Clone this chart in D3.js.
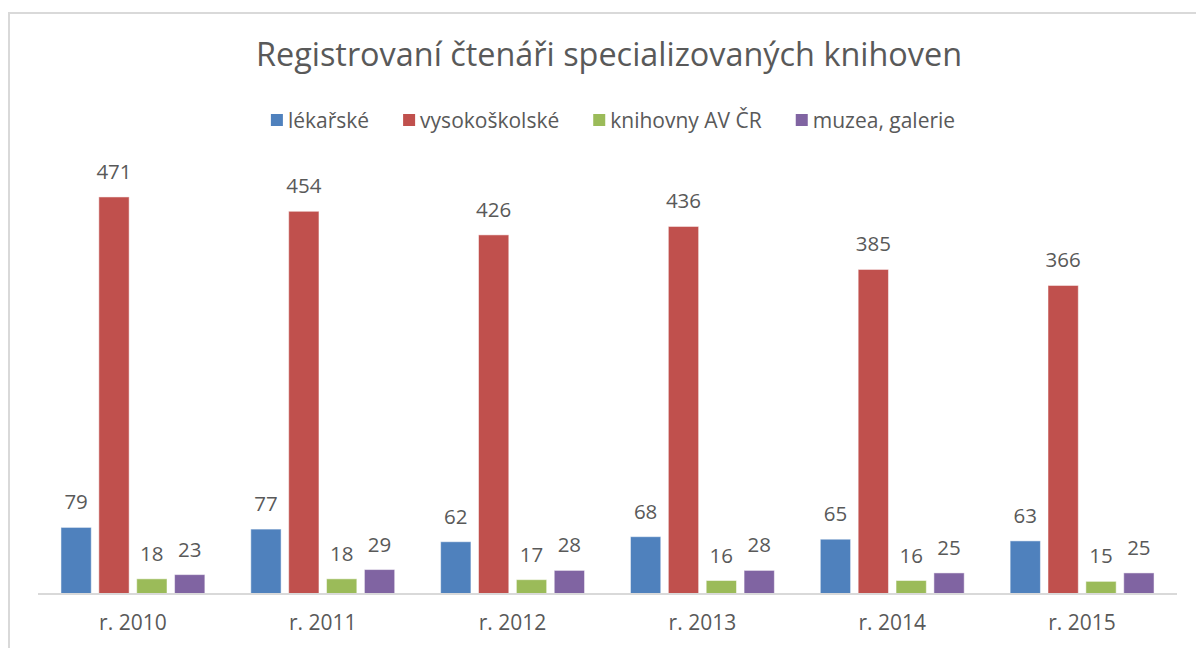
<!DOCTYPE html>
<html lang="cs">
<head>
<meta charset="UTF-8">
<title>Registrovaní čtenáři</title>
<style>
body { margin: 0; background: #fff; font-family: 'Open Sans', sans-serif; }
text { fill: #595959; }
</style>
</head>
<body>
<div id="chart"></div>
<script src="https://cdnjs.cloudflare.com/ajax/libs/d3/7.8.5/d3.min.js"></script>
<script>
var years = ["r. 2010", "r. 2011", "r. 2012", "r. 2013", "r. 2014", "r. 2015"];
var seriesNames = ["lékařské", "vysokoškolské", "knihovny AV ČR", "muzea, galerie"];
var colors = ["#4F81BD", "#C0504D", "#9BBB59", "#8064A2"];

var lekarske = [79, 77, 62, 68, 65, 63];
var vysokoskolske = [471, 454, 426, 436, 385, 366];
var knihovnyAV = [18, 18, 17, 16, 16, 15];
var muzea = [23, 29, 28, 28, 25, 25];

var seriesValues = [lekarske, vysokoskolske, knihovnyAV, muzea];

var width = 1196, height = 648;
var baseY = 594, axisLeft = 38, axisRight = 1177;

var svg = d3.select('#chart').append('svg')
  .attr('width', width)
  .attr('height', height);

// chart border
svg.append('rect')
  .attr('x', 9).attr('y', 13)
  .attr('width', 1250).attr('height', 700)
  .attr('fill', 'none')
  .attr('stroke', '#d9d9d9')
  .attr('stroke-width', 2);

// title
svg.append('text')
  .attr('x', 609).attr('y', 66)
  .attr('text-anchor', 'middle')
  .style('font-size', '32.4px')
  .text('Registrovaní čtenáři specializovaných knihoven');

var x0 = d3.scaleBand()
  .domain(years)
  .range([axisLeft, axisRight])
  .paddingInner(0.242)
  .paddingOuter(0.121);

var x1 = d3.scaleBand()
  .domain(seriesNames)
  .range([0, x0.bandwidth()])
  .paddingInner(0.2);

var y = d3.scaleLinear()
  .domain([0, 500])
  .range([baseY, baseY - 421.5]);

var rows = years.map(function (yr, i) {
  return { year: yr, vals: seriesNames.map(function (s, j) { return { name: s, idx: j, v: seriesValues[j][i] }; }) };
});

var groups = svg.selectAll('.grp')
  .data(rows)
  .enter().append('g')
  .attr('class', 'grp')
  .attr('transform', function (d) { return 'translate(' + x0(d.year) + ',0)'; });

groups.selectAll('rect')
  .data(function (d) { return d.vals; })
  .enter().append('rect')
  .attr('x', function (d) { return x1(d.name); })
  .attr('y', function (d) { return y(d.v); })
  .attr('width', x1.bandwidth())
  .attr('height', function (d) { return baseY - y(d.v); })
  .attr('fill', function (d) { return colors[d.idx]; })
  .attr('stroke', '#fff')
  .attr('stroke-opacity', 0.5)
  .attr('stroke-width', 1);

groups.selectAll('.lbl')
  .data(function (d) { return d.vals; })
  .enter().append('text')
  .attr('class', 'lbl')
  .attr('x', function (d) { return x1(d.name) + x1.bandwidth() / 2; })
  .attr('y', function (d) { return y(d.v) - 18; })
  .attr('text-anchor', 'middle')
  .style('font-size', '20.5px')
  .text(function (d) { return d.v; });

// baseline
svg.append('line')
  .attr('x1', axisLeft).attr('x2', axisRight)
  .attr('y1', baseY).attr('y2', baseY)
  .attr('stroke', '#d9d9d9')
  .attr('stroke-width', 2);

var xAxis = svg.append('g')
  .attr('transform', 'translate(0,' + baseY + ')')
  .call(d3.axisBottom(x0).tickSize(0).tickPadding(21));
xAxis.select('.domain').remove();
xAxis.selectAll('text')
  .style('font-family', "'Open Sans', sans-serif")
  .style('font-size', '21px')
  .attr('fill', '#595959');

// legend
var legend = svg.append('g');
var items = legend.selectAll('.leg')
  .data(seriesNames)
  .enter().append('g')
  .attr('class', 'leg');
items.append('rect')
  .attr('width', 12).attr('height', 12)
  .attr('y', -14)
  .attr('fill', function (d, i) { return colors[i]; });
items.append('text')
  .attr('x', 17)
  .style('font-size', '21px')
  .text(function (d) { return d; });

var pos = 0;
items.each(function () {
  var g = d3.select(this);
  var w = g.select('text').node().getComputedTextLength() + 17;
  g.attr('transform', 'translate(' + pos + ',0)');
  pos += w + 34;
});
var total = pos - 34;
legend.attr('transform', 'translate(' + (613 - total / 2) + ',128)');
</script>
</body>
</html>
